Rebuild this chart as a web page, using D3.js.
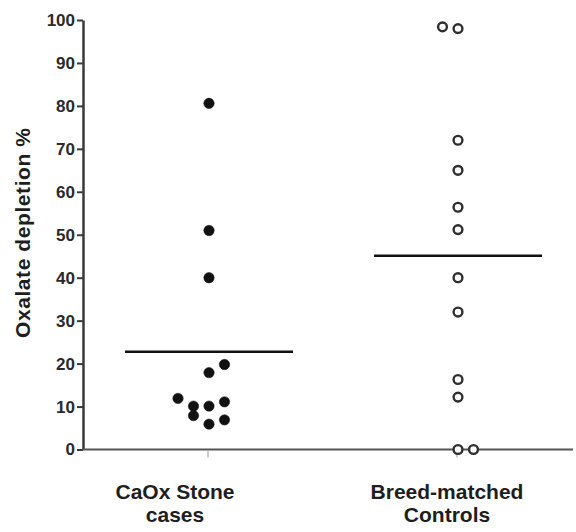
<!DOCTYPE html>
<html>
<head>
<meta charset="utf-8">
<script src="https://cdn.jsdelivr.net/npm/d3@7/dist/d3.min.js"></script>
<style>
  html, body { margin: 0; padding: 0; background: #fff; }
  svg { display: block; font-family: "Liberation Sans", Arial, Helvetica, sans-serif; }
</style>
</head>
<body>
<svg id="chart" width="576" height="532"></svg>
<script>
// Groups and their two-line labels
const groups = ["CaOx Stone cases", "Breed-matched Controls"];
const groupLabels = [["CaOx Stone", "cases"], ["Breed-matched", "Controls"]];

// Oxalate depletion (%) per animal
const stoneValues   = [80.6, 51.0, 40.0, 19.8, 17.9, 11.9, 10.1, 7.9, 10.1, 11.1, 6.9, 5.9];
// column within the dot stack (0 = centre, negative = left)
const stoneColumns  = [0, 0, 0, 1, 0, -2, -1, -1, 0, 1, 1, 0];

const controlValues  = [98.4, 98.0, 72.0, 65.0, 56.4, 51.2, 40.0, 32.0, 16.3, 12.2, 0, 0];
const controlColumns = [-1, 0, 0, 0, 0, 0, 0, 0, 0, 0, 0, 1];

const yTicks = [0, 10, 20, 30, 40, 50, 60, 70, 80, 90, 100];

const svg = d3.select("#chart");

// Scales
const y = d3.scaleLinear().domain([0, 100]).range([449.5, 20]);
const x = d3.scalePoint().domain(groups).range([209, 458]);
const col = d3.scaleLinear().domain([0, 1]).range([0, 15.5]);   // column index -> px offset
const meanHalfWidth = 84;
const axisX = 83;

// Y axis
const yAxis = d3.axisLeft(y).tickValues(yTicks).tickSize(6).tickPadding(2).tickSizeOuter(0);
const gy = svg.append("g").attr("transform", `translate(${axisX},0)`).call(yAxis);
gy.select(".domain").attr("stroke", "#3a3a3a").attr("stroke-width", 2.5);
gy.selectAll(".tick line").attr("stroke", "#3a3a3a").attr("stroke-width", 2);
gy.selectAll(".tick text")
  .attr("fill", "#2a2a2a").attr("font-size", 17).attr("font-weight", "bold")
  .attr("font-family", "'Liberation Sans', Arial, sans-serif");

// X axis line
svg.append("line")
  .attr("x1", axisX - 1).attr("x2", 573)
  .attr("y1", y(0)).attr("y2", y(0))
  .attr("stroke", "#555").attr("stroke-width", 2);

// Small category ticks
svg.selectAll("line.cat-tick").data(groups).join("line")
  .attr("class", "cat-tick")
  .attr("x1", d => x(d) - 1).attr("x2", d => x(d) - 1)
  .attr("y1", y(0) + 1).attr("y2", y(0) + 8)
  .attr("stroke", "#aaa").attr("stroke-width", 1.2);

// Category labels
const labelShift = [-34, -11];
const lab = svg.selectAll("text.cat").data(groups).join("text")
  .attr("class", "cat")
  .attr("text-anchor", "middle")
  .attr("font-size", 21).attr("font-weight", "bold").attr("fill", "#1e1e1e");
lab.each(function(d, i) {
  const t = d3.select(this);
  groupLabels[i].forEach((line, k) => {
    t.append("tspan")
      .attr("x", x(d) + labelShift[i])
      .attr("y", 499 + k * 23)
      .text(line);
  });
});

// Y axis title
svg.append("text")
  .attr("transform", `translate(30,233) rotate(-90)`)
  .attr("text-anchor", "middle")
  .attr("font-size", 21).attr("font-weight", "bold").attr("fill", "#1e1e1e")
  .attr("textLength", 210).attr("lengthAdjust", "spacing")
  .text("Oxalate depletion %");

// Mean lines
const series = [
  { g: groups[0], values: stoneValues, cols: stoneColumns, filled: true },
  { g: groups[1], values: controlValues, cols: controlColumns, filled: false }
];
series.forEach(s => {
  const m = d3.mean(s.values);
  svg.append("line")
    .attr("x1", x(s.g) - meanHalfWidth).attr("x2", x(s.g) + meanHalfWidth)
    .attr("y1", y(m)).attr("y2", y(m))
    .attr("stroke", "#111").attr("stroke-width", 2.5);
});

// Points
series.forEach(s => {
  const pts = s.values.map((v, i) => ({ v, c: s.cols[i] }));
  svg.append("g").selectAll("circle").data(pts).join("circle")
    .attr("cx", d => x(s.g) + col(d.c))
    .attr("cy", d => y(d.v))
    .attr("r", s.filled ? 5.2 : 4.4)
    .attr("fill", s.filled ? "#111" : "#fff")
    .attr("stroke", s.filled ? "#111" : "#2e2e2e")
    .attr("stroke-width", s.filled ? 0.5 : 2.4);
});
</script>
</body>
</html>
